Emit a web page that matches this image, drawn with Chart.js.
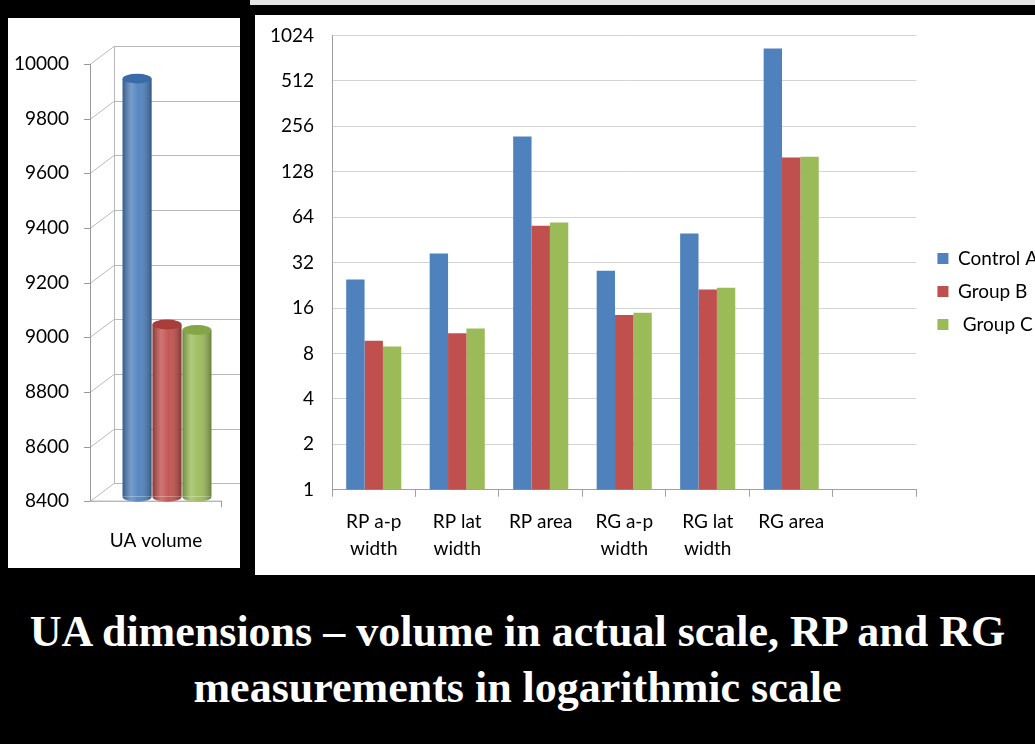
<!DOCTYPE html>
<html>
<head>
<meta charset="utf-8">
<script src="https://cdn.jsdelivr.net/npm/chart.js@4/dist/chart.umd.min.js"></script>
<style>
body { margin:0; background:#000; width:1035px; height:744px; overflow:hidden; position:relative; font-family:Lato, sans-serif; }
#topStrip { position:absolute; left:250px; top:0; width:785px; height:5px; background:#e4e4e4; }
#leftBox { position:absolute; left:8px; top:18px; width:232px; height:550px; background:#fff; overflow:hidden; }
#rightBox { position:absolute; left:255px; top:15px; width:780px; height:560px; background:#fff; overflow:hidden; }
#volChart { position:absolute; left:0; top:0; }
#logChart { position:absolute; left:0; top:-9px; }
#caption { position:absolute; left:0; top:604px; width:1035px; text-align:center; color:#fff;
  font-family:"Liberation Serif", "DejaVu Serif", serif; font-weight:bold; font-size:44px; line-height:56px; }
</style>
</head>
<body>
<div id="topStrip"></div>
<div id="leftBox"><canvas id="volChart" width="232" height="562"></canvas></div>
<div id="rightBox"><canvas id="logChart" width="793" height="580"></canvas></div>
<div id="caption">UA dimensions &ndash; volume in actual scale, RP and RG<br>measurements in logarithmic scale</div>
<script>
// UA volume (linear)
var volumeLabels = ['UA volume'];
var volumeControlA = [9930];
var volumeGroupB = [9030];
var volumeGroupC = [9010];
var volumeTicks = [8400, 8600, 8800, 9000, 9200, 9400, 9600, 9800, 10000];

// RP / RG measurements (log2 scale)
var measureLabels = [['RP a-p', 'width'], ['RP lat', 'width'], 'RP area', ['RG a-p', 'width'], ['RG lat', 'width'], 'RG area', ''];
var controlA = [24.7, 36.7, 219, 28.3, 49.8, 839, null];
var groupB = [9.7, 10.9, 56.2, 14.4, 21.2, 159, null];
var groupC = [8.9, 11.7, 58.9, 14.9, 21.8, 161, null];
var logTicks = [1, 2, 4, 8, 16, 32, 64, 128, 256, 512, 1024];

var seriesNames = ['Control A', 'Group B', ' Group C'];
var seriesColors = ['#4F81BD', '#C0504D', '#9BBB59'];
var capColors = ['#3A6BA8', '#A83E3B', '#84A548'];

var depthX = 24, depthY = -18;
var tickFont = { family: 'Lato', size: 19 };

// back wall + floor of the 3D chart, then shift bars into the depth
var wallPlugin = {
    id: 'wall',
    beforeDatasetsDraw: function (chart) {
        var ctx = chart.ctx, ys = chart.scales.y, area = chart.chartArea;
        var ax = area.left;
        var yTop = ys.getPixelForValue(volumeTicks[volumeTicks.length - 1]);
        var yBot = ys.getPixelForValue(volumeTicks[0]);
        ctx.save();
        ctx.strokeStyle = '#b8b8b8';
        ctx.lineWidth = 1;
        volumeTicks.forEach(function (v) {
            var py = Math.round(ys.getPixelForValue(v)) + 0.5;
            ctx.beginPath();
            ctx.moveTo(ax, py);
            ctx.lineTo(ax + depthX, py + depthY);
            ctx.lineTo(chart.width, py + depthY);
            ctx.stroke();
        });
        ctx.beginPath();
        ctx.moveTo(ax + depthX + 0.5, yTop + depthY);
        ctx.lineTo(ax + depthX + 0.5, yBot + depthY);
        ctx.stroke();
        ctx.strokeStyle = '#999';
        ctx.beginPath();
        ctx.moveTo(ax + 0.5, yTop);
        ctx.lineTo(ax + 0.5, yBot);
        ctx.lineTo(area.right, yBot);
        ctx.moveTo(area.right - 0.5, yBot);
        ctx.lineTo(area.right - 0.5, yBot + 6);
        volumeTicks.forEach(function (v) {
            var py = Math.round(ys.getPixelForValue(v)) + 0.5;
            ctx.moveTo(ax - 6, py);
            ctx.lineTo(ax, py);
        });
        ctx.stroke();
        ctx.restore();

        ctx.save();
        ctx.translate(depthX / 2 - 1, depthY / 4);
    },
    afterDatasetsDraw: function (chart) {
        var ctx = chart.ctx, ys = chart.scales.y;
        var base = ys.getPixelForValue(volumeTicks[0]);
        chart.data.datasets.forEach(function (ds, di) {
            chart.getDatasetMeta(di).data.forEach(function (bar) {
                var w = bar.width, left = bar.x - w / 2, top = bar.y;
                var ry = w * 0.17;
                var g = ctx.createLinearGradient(left, 0, left + w, 0);
                g.addColorStop(0, 'rgba(0,0,0,0.28)');
                g.addColorStop(0.3, 'rgba(255,255,255,0.22)');
                g.addColorStop(0.55, 'rgba(255,255,255,0.05)');
                g.addColorStop(1, 'rgba(0,0,0,0.32)');
                ctx.fillStyle = g;
                ctx.fillRect(left, top, w, base - top);
                ctx.beginPath();
                ctx.ellipse(bar.x, base, w / 2, ry, 0, 0, Math.PI);
                ctx.fillStyle = ds.backgroundColor;
                ctx.fill();
                ctx.fillStyle = g;
                ctx.fill();
                ctx.beginPath();
                ctx.ellipse(bar.x, top, w / 2, ry, 0, 0, 2 * Math.PI);
                ctx.fillStyle = capColors[di];
                ctx.fill();
            });
        });
        ctx.restore();
    }
};

new Chart(document.getElementById('volChart'), {
    type: 'bar',
    data: {
        labels: volumeLabels,
        datasets: [
            { label: seriesNames[0], data: volumeControlA, backgroundColor: seriesColors[0], base: volumeTicks[0] },
            { label: seriesNames[1], data: volumeGroupB, backgroundColor: seriesColors[1], base: volumeTicks[0] },
            { label: seriesNames[2], data: volumeGroupC, backgroundColor: seriesColors[2], base: volumeTicks[0] }
        ]
    },
    options: {
        responsive: false,
        animation: false,
        devicePixelRatio: 1,
        categoryPercentage: 0.68,
        barPercentage: 0.97,
        layout: { padding: { top: 46, right: 18, bottom: 8, left: 0 } },
        plugins: { legend: { display: false }, tooltip: { enabled: false } },
        scales: {
            x: {
                grid: { display: false },
                border: { display: false },
                ticks: { color: '#000', font: tickFont, padding: 20 }
            },
            y: {
                min: 8400,
                max: 10000,
                afterFit: function (scale) { scale.width = 82; },
                afterBuildTicks: function (scale) {
                    scale.ticks = volumeTicks.map(function (v) { return { value: v }; });
                },
                grid: { display: false },
                border: { display: false },
                ticks: { color: '#000', font: tickFont, padding: 13, callback: function (v) { return String(v); } }
            }
        }
    },
    plugins: [wallPlugin]
});

new Chart(document.getElementById('logChart'), {
    type: 'bar',
    data: {
        labels: measureLabels,
        datasets: [
            { label: seriesNames[0], data: controlA, backgroundColor: seriesColors[0] },
            { label: seriesNames[1], data: groupB, backgroundColor: seriesColors[1] },
            { label: seriesNames[2], data: groupC, backgroundColor: seriesColors[2] }
        ]
    },
    options: {
        responsive: false,
        animation: false,
        devicePixelRatio: 1,
        categoryPercentage: 0.66,
        barPercentage: 1,
        layout: { padding: { top: 3, right: 0, bottom: 12, left: 0 } },
        plugins: {
            tooltip: { enabled: false },
            legend: {
                position: 'right',
                labels: {
                    color: '#000',
                    font: tickFont,
                    boxWidth: 11,
                    boxHeight: 11,
                    padding: 14
                }
            }
        },
        scales: {
            x: {
                grid: { display: true, drawOnChartArea: false, drawTicks: true, tickLength: 7, color: '#a0a0a0' },
                border: { display: true, color: '#a0a0a0' },
                ticks: { color: '#000', font: { family: 'Lato', size: 19, lineHeight: 1.4 }, padding: 12, maxRotation: 0, autoSkip: false }
            },
            y: {
                type: 'logarithmic',
                min: 1,
                max: 1024,
                afterFit: function (scale) { scale.width = 77; },
                afterBuildTicks: function (scale) {
                    scale.ticks = logTicks.map(function (v) { return { value: v }; });
                },
                grid: { color: '#d4d4d4', drawTicks: false },
                border: { display: true, color: '#a0a0a0' },
                ticks: { color: '#000', font: tickFont, padding: 18, callback: function (v) { return String(v); } }
            },
            // empty strip between plot and legend
            gap: {
                type: 'linear',
                position: 'right',
                afterFit: function (scale) { scale.width = 7; },
                grid: { display: false },
                border: { display: false },
                ticks: { display: false }
            }
        }
    }
});
</script>
</body>
</html>
